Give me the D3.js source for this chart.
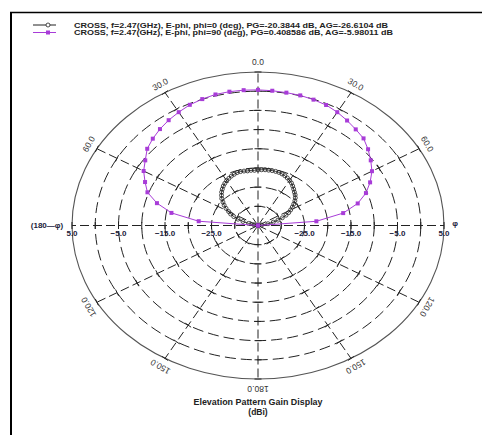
<!DOCTYPE html>
<html>
<head>
<meta charset="utf-8">
<script src="https://cdn.jsdelivr.net/npm/d3@7"></script>
<style>
  body { margin: 0; background: #fff; }
  svg { display: block; }
  text { font-family: "Liberation Sans", Arial, Helvetica, sans-serif; }
</style>
</head>
<body>
<svg id="chart" width="482" height="435"></svg>
<script>
// Radial gain grid (dBi) and angular grid (deg)
const gainRings  = [5, 0, -5, -10, -15, -20, -25, -30];
const gainLabels = [5, -5, -15, -25];
const spokeAngles = [-150, -120, -90, -60, -30, 0, 30, 60, 90, 120, 150, 180];
const angleLabels = [0, 30, 60, 120, 150, 180];

// CROSS, E-phi, phi = 0 deg
const phi0Theta = [-90,-87,-84,-81,-78,-75,-72,-69,-66,-63,-60,-57,-54,-51,-48,-45,-42,-39,-36,-33,-30,-27,-24,-21,-18,-15,-12,-9,-6,-3,
                   0,3,6,9,12,15,18,21,24,27,30,33,36,39,42,45,48,51,54,57,60,63,66,69,72,75,78,81,84,87,90];
const phi0Gain  = [-45,-40.5,-37.2,-35.6,-34.1,-32.9,-31.6,-30.4,-29.3,-28.4,-27.7,-26.8,-26.0,-25.3,-24.5,-23.9,-23.3,-22.8,-22.3,-21.9,
                   -21.5,-21.2,-20.9,-20.7,-20.5,-20.45,-20.5,-20.6,-20.55,-20.6,
                   -20.5,-20.45,-20.4,-20.4,-20.38,-20.4,-20.45,-20.6,-20.8,-21.1,-21.4,-21.8,-22.3,-22.8,-23.3,-23.7,-24.2,-24.8,-25.5,-26.2,
                   -26.9,-27.6,-28.4,-29.4,-30.5,-31.6,-32.8,-34.2,-36.0,-38.5,-42];

// CROSS, E-phi, phi = 90 deg
const phi90Theta = [-90,-85,-80,-75,-70,-65,-60,-55,-50,-45,-40,-35,-30,-25,-20,-15,-10,-5,
                    0,5,10,15,20,25,30,35,40,45,50,55,60,65,70,75,80,85,90];
const phi90Gain  = [-40,-22.2,-16.1,-12.5,-9.7,-8.2,-6.6,-5.4,-3.9,-3.0,-2.2,-1.5,-0.9,-0.3,0.05,0.35,0.41,0.4,
                    0.35,0.25,0.15,0.1,-0.1,-0.35,-0.9,-1.6,-2.3,-2.9,-4.1,-5.4,-6.7,-8.4,-10.3,-12.8,-16.4,-22.4,-40];

const legendItems = [
  { text: "CROSS, f=2.47(GHz), E-phi, phi=0 (deg), PG=-20.3844 dB, AG=-26.6104 dB", color: "#222222", marker: "circle", width: 314 },
  { text: "CROSS, f=2.47(GHz), E-phi, phi=90 (deg), PG=0.408586 dB, AG=-5.98011 dB", color: "#a83cd8", marker: "square", width: 319 }
];

const svg = d3.select("#chart");
const cx = 258, cy = 225.5, rx = 186, ry = 153.5;

// normalised radius 0..1 from gain
const r = d3.scaleLinear().domain([-35, 5]).range([0, 1]).clamp(true);
const rad = d => d * Math.PI / 180;
const px = (theta, g) => cx + rx * r(g) * Math.sin(rad(theta));
const py = (theta, g) => cy - ry * r(g) * Math.cos(rad(theta));

// frame lines
svg.append("line").attr("x1", 10).attr("x2", 482).attr("y1", 12.5).attr("y2", 12.5)
  .attr("stroke", "#000").attr("stroke-width", 1.6);
svg.append("line").attr("x1", 11).attr("x2", 11).attr("y1", 12).attr("y2", 435)
  .attr("stroke", "#000").attr("stroke-width", 2);

const grid = svg.append("g");

// rings
gainRings.forEach(g => {
  grid.append("ellipse")
    .attr("cx", cx).attr("cy", cy)
    .attr("rx", rx * r(g)).attr("ry", ry * r(g))
    .attr("fill", "none")
    .attr("stroke", g === 5 ? "#555" : "#222")
    .attr("stroke-width", g === 5 ? 1.1 : 1)
    .attr("stroke-dasharray", g === 5 ? null : "11,5");
});

// spokes with cross ticks at each ring
spokeAngles.forEach(a => {
  grid.append("line")
    .attr("x1", cx).attr("y1", cy)
    .attr("x2", px(a, 5)).attr("y2", py(a, 5))
    .attr("stroke", "#222").attr("stroke-width", 1)
    .attr("stroke-dasharray", "9,4");
  const dx = rx * Math.sin(rad(a)), dy = -ry * Math.cos(rad(a));
  const len = Math.hypot(dx, dy);
  const nx = -dy / len, ny = dx / len;
  gainRings.forEach(g => {
    const x0 = px(a, g), y0 = py(a, g), h = 3.5;
    grid.append("line")
      .attr("x1", x0 - nx * h).attr("y1", y0 - ny * h)
      .attr("x2", x0 + nx * h).attr("y2", y0 + ny * h)
      .attr("stroke", "#222").attr("stroke-width", 1);
  });
});

// angle labels along the outer ring
const angLab = svg.append("g").attr("font-size", 8.5).attr("fill", "#333").attr("text-anchor", "middle");
angleLabels.forEach(a => {
  const sides = (a === 0 || a === 180) ? [a] : [-a, a];
  sides.forEach(t => {
    const x = cx + (rx + 9.5) * Math.sin(rad(t));
    const y = cy - (ry + 9.5) * Math.cos(rad(t));
    angLab.append("text")
      .attr("transform", `translate(${x},${y}) rotate(${t})`)
      .attr("dy", "0.35em")
      .text(d3.format(".1f")(a));
  });
});

// gain labels below the horizontal axis, both sides
const gLab = svg.append("g").attr("font-size", 8).attr("font-weight", "bold")
  .attr("fill", "#1b1b3a").attr("text-anchor", "middle");
gainLabels.forEach(g => {
  [-90, 90].forEach(t => {
    gLab.append("text").attr("x", px(t, g)).attr("y", cy + 10).text(d3.format(".1f")(g));
  });
});
svg.append("text").attr("x", 47).attr("y", 228).attr("font-size", 8).attr("font-weight", "bold")
  .attr("fill", "#1b1b3a").attr("text-anchor", "middle").text("(180—φ)");
svg.append("text").attr("x", 455).attr("y", 226).attr("font-size", 8).attr("font-weight", "bold")
  .attr("fill", "#1b1b3a").attr("text-anchor", "middle").text("φ");

// traces
const line = d3.line().x(d => d[0]).y(d => d[1]);
function trace(theta, gain, color, marker, width) {
  const pts = theta.map((t, i) => [px(t, gain[i]), py(t, gain[i])]);
  const g = svg.append("g");
  g.append("path").attr("d", line(pts)).attr("fill", "none")
    .attr("stroke", color).attr("stroke-width", width);
  if (marker === "circle") {
    g.selectAll("circle").data(pts).join("circle")
      .attr("cx", d => d[0]).attr("cy", d => d[1]).attr("r", 2)
      .attr("fill", "none").attr("stroke", color).attr("stroke-width", 0.8);
  } else {
    g.selectAll("rect").data(pts).join("rect")
      .attr("x", d => d[0] - 2).attr("y", d => d[1] - 2)
      .attr("width", 4).attr("height", 4).attr("fill", color);
  }
}
trace(phi0Theta, phi0Gain, "#222222", "circle", 0.9);
trace(phi90Theta, phi90Gain, "#a83cd8", "square", 1);

// legend
const leg = svg.append("g");
legendItems.forEach((d, i) => {
  const y = 25 + i * 7.5;
  leg.append("line").attr("x1", 33).attr("x2", 56).attr("y1", y).attr("y2", y)
    .attr("stroke", d.color).attr("stroke-width", 1);
  if (d.marker === "circle") {
    leg.append("circle").attr("cx", 48).attr("cy", y).attr("r", 2)
      .attr("fill", "#fff").attr("stroke", d.color).attr("stroke-width", 0.8);
  } else {
    leg.append("rect").attr("x", 46).attr("y", y - 2).attr("width", 4).attr("height", 4).attr("fill", d.color);
  }
  leg.append("text").attr("x", 74).attr("y", y + 2.8).attr("font-size", 8)
    .attr("font-weight", "bold").attr("fill", "#222")
    .attr("textLength", d.width).attr("lengthAdjust", "spacingAndGlyphs").text(d.text);
});

// title
svg.append("text").attr("x", 258).attr("y", 404.5).attr("text-anchor", "middle")
  .attr("font-size", 8.5).attr("font-weight", "bold").attr("fill", "#222")
  .attr("textLength", 129).attr("lengthAdjust", "spacingAndGlyphs")
  .text("Elevation Pattern Gain Display");
svg.append("text").attr("x", 258).attr("y", 414.5).attr("text-anchor", "middle")
  .attr("font-size", 8.5).attr("font-weight", "bold").attr("fill", "#222")
  .text("(dBi)");
</script>
</body>
</html>
